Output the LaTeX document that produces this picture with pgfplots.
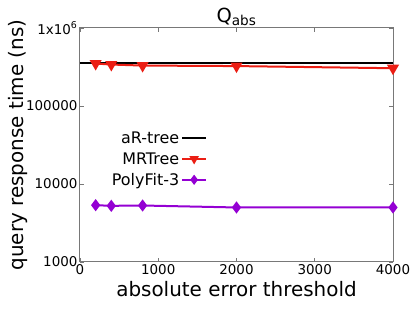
\documentclass[border=0pt]{standalone}
\usepackage{pgfplots}
\pgfplotsset{compat=1.18}
\usepackage{fontspec}
\setmainfont{DejaVu Sans}
\definecolor{mred}{RGB}{235,30,20}
\definecolor{mpurple}{RGB}{148,0,211}
\definecolor{framegray}{RGB}{120,120,120}
\begin{document}
\begin{tikzpicture}[x=1bp,y=1bp]
\useasboundingbox (-80,-50) rectangle (335,262);
\begin{axis}[
  at={(0,0)}, anchor=south west,
  scale only axis, width=313bp, height=234bp,
  xmin=0, xmax=4000, ymin=1000, ymax=1000000,
  ymode=log, log basis y=10,
  xtick={0,1000,2000,3000,4000},
  xticklabels={0,1000,2000,3000,4000},
  ytick={1000,10000,100000,1000000},
  yticklabels={1000,10000,100000,1x10\textsuperscript{6}},
  /pgf/number format/assume math mode=true,
  tick align=inside, tick pos=both,
  major tick length=4bp, minor tick length=2bp,
  every tick/.style={framegray, line width=0.6bp},
  axis line style={framegray, line width=1bp},
  xticklabel style={font=\fontsize{13.5}{13.5}\selectfont, yshift=1bp},
  yticklabel style={font=\fontsize{13.5}{13.5}\selectfont, xshift=1bp},
  title={Q\textsubscript{abs}},
  title style={font=\fontsize{19.5}{19.5}\selectfont, yshift=-7bp},
  xlabel={absolute error threshold},
  ylabel={query response time (ns)},
  xlabel style={font=\fontsize{20}{20}\selectfont, yshift=0bp},
  ylabel style={font=\fontsize{20}{20}\selectfont, yshift=-8bp},
  legend style={at={(0.41,0.57)}, anchor=north east, draw=none, fill=none,
    font=\fontsize{16}{16}\selectfont, row sep=3.5bp, inner sep=1bp},
  legend cell align=right,
  legend plot pos=right,
  legend image code/.code={\draw[#1] (0bp,0bp) -- (24bp,0bp); \draw[#1, only marks, mark size=3.5bp] plot coordinates {(12bp,0bp)};},
]
\addplot[black, line width=2bp, mark=none] coordinates {(0,360000) (4000,360000)};
\addlegendentry{aR-tree}
\addplot[mred, line width=2bp, mark=triangle*, mark size=5bp, mark options={rotate=180}] coordinates {
(200,350000) (400,340000) (800,330000) (2000,325000) (4000,305000)};
\addlegendentry{MRTree}
\addplot[mpurple, line width=2bp, mark=diamond*, mark size=4.5bp] coordinates {
(200,5350) (400,5250) (800,5300) (2000,5000) (4000,5000)};
\addlegendentry{PolyFit-3}
\end{axis}
\end{tikzpicture}
\end{document}
